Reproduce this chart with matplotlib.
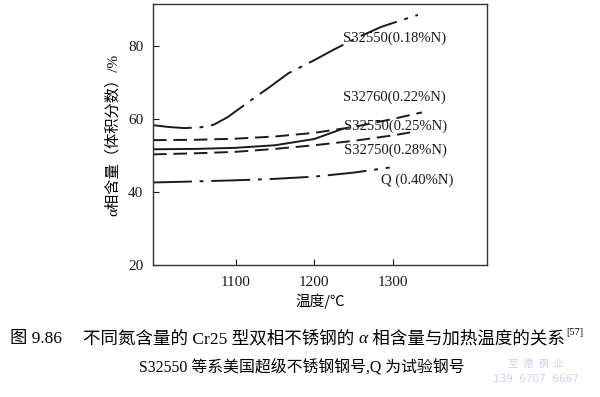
import matplotlib.pyplot as plt
import numpy as np

# S32550 (0.18%N)
t_a = [995, 1015, 1035, 1055, 1072, 1090, 1120, 1145, 1167, 1200, 1224, 1255, 1285, 1310, 1332]
v_a = [58.3, 57.8, 57.5, 57.7, 58.4, 60.5, 65.2, 69.0, 72.5, 76.1, 78.9, 82.3, 85.2, 87.0, 88.5]
# S32760 (0.22%N)
t_b = [995, 1050, 1100, 1150, 1200, 1250, 1300, 1337]
v_b = [54.2, 54.3, 54.6, 55.2, 56.2, 57.8, 60.0, 61.8]
# S32550 (0.25%N)
t_c = [995, 1050, 1100, 1150, 1200, 1236]
v_c = [51.7, 51.8, 52.1, 52.8, 54.5, 57.3]
# S32750 (0.28%N)
t_d = [995, 1050, 1100, 1150, 1200, 1250, 1300, 1322]
v_d = [50.3, 50.6, 51.0, 51.8, 52.8, 54.0, 55.5, 56.3]
# Q (0.40%N)
t_q = [995, 1050, 1100, 1150, 1200, 1250, 1296]
v_q = [42.6, 42.9, 43.2, 43.6, 44.2, 45.3, 46.7]

labels = ["S32550(0.18%N)", "S32760(0.22%N)", "S32550(0.25%N)", "S32750(0.28%N)", "Q (0.40%N)"]
label_x = [1237, 1237, 1238, 1238, 1285]
label_y = [82.2, 66.0, 58.1, 51.5, 43.3]

xticks = [1100, 1200, 1300]
yticks = [20, 40, 60, 80]

serif = ['Liberation Serif', 'Noto Sans CJK SC']
cjk = ['Noto Sans CJK SC', 'DejaVu Sans']

fig = plt.figure(figsize=(6, 3.97), dpi=100)
ax = fig.add_axes([0.255, 0.3325, 0.557, 0.6575])
col = '#1a1a1a'
lw = 1.4

ax.plot(t_a, v_a, color=col, lw=lw, dashes=(20, 4, 2, 4))
ax.plot(t_b, v_b, color=col, lw=lw, dashes=(7, 3.5))
ax.plot(t_c, v_c, color=col, lw=lw)
ax.plot(t_d, v_d, color=col, lw=lw, dashes=(7, 3.5))
ax.plot(t_q, v_q, color=col, lw=lw, dashes=(20, 4, 2, 4))

for s, x, y in zip(labels, label_x, label_y):
    ax.text(x, y, s, fontsize=10.5, family=serif, va='center', ha='left', color=col)

ax.set_xlim(995, 1420)
ax.set_ylim(20, 91.5)
ax.set_xticks(xticks)
ax.set_yticks(yticks)
ax.tick_params(direction='in', length=4, labelsize=11, colors=col)
ax.tick_params(axis='x', pad=8)
ax.tick_params(axis='y', pad=7)
for lab in ax.get_xticklabels() + ax.get_yticklabels():
    lab.set_family(serif)
for sp in ax.spines.values():
    sp.set_linewidth(1.0)
    sp.set_color('#333333')

ax.set_xlabel("温度/℃", family=cjk, fontsize=10.5, labelpad=3)
ax.set_ylabel("α相含量（体积分数）/%", family=serif, fontsize=11, labelpad=6)

# caption, drawn piece by piece so Latin parts stay serif and alpha italic
renderer = fig.canvas.get_renderer()


def put(x, y, s, **kw):
    t = fig.text(x, y, s, va='baseline', ha='left', **kw)
    bb = t.get_window_extent(renderer)
    return x + bb.width / fig.bbox.width


y1 = 1 - 343 / 397
fig.text(10 / 600, y1, "图 9.86", family=serif, fontsize=12.5, va='baseline', ha='left')
x = 83 / 600
x = put(x, y1, "不同氮含量的 Cr25 型双相不锈钢的 ", family=serif, fontsize=12.6)
x = put(x, y1, "α", family='Liberation Serif', style='italic', fontsize=12.6)
x = put(x, y1, " 相含量与加热温度的关系", family=serif, fontsize=12.6)
put(x + 0.002, y1 + 0.02, "[57]", family='Liberation Serif', fontsize=7.5)

fig.text(139 / 600, 1 - 367 / 397, "S32550 等系美国超级不锈钢钢号,Q 为试验钢号",
         family=serif, fontsize=11.4, va='center', ha='left')
fig.text(536 / 600, 1 - 364 / 397, "至  德  钢  业", family=cjk, fontsize=7.5,
         color='#c8d4ea', ha='center', va='center')
fig.text(536 / 600, 1 - 379 / 397, "139  6707  6667", family='DejaVu Sans', fontsize=7.5,
         color='#c8d4ea', ha='center', va='center')

fig.savefig("out.png", dpi=100)
